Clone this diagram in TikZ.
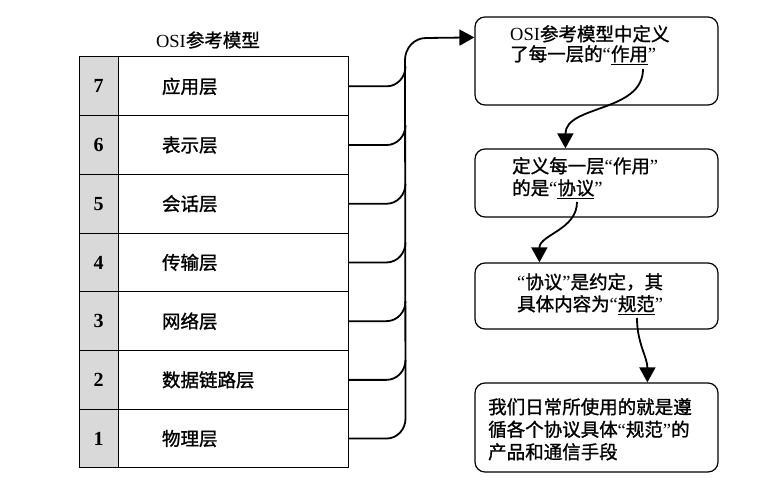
\documentclass[tikz,border=0pt]{standalone}
\usepackage{fontspec}
\setmainfont{Noto Sans CJK SC}[RawFeature={embolden=1.2}]
\newfontfamily\lat{Liberation Serif}
\usepackage{tikz}
\usetikzlibrary{arrows.meta,calc}
\newcommand\lqt{{\lat “}}
\newcommand\rqt{{\lat ”}}

\begin{document}
\begin{tikzpicture}
  [x=1pt,y=1pt,
   every node/.style={font=\fontsize{18.5}{22}\selectfont},
   numcell/.style={draw,line width=1pt,fill=gray!30,minimum width=39pt,minimum height=58.7pt,
     inner sep=0pt,font=\fontsize{20}{22}\selectfont\lat\bfseries},
   laycell/.style={draw,line width=1pt,text width=142pt,inner xsep=44pt,inner ysep=0pt,
     minimum height=58.7pt,align=left},
   box/.style={draw,line width=1.2pt,rounded corners=10pt,minimum width=243pt},
   boxtext/.style={anchor=north west,inner sep=0pt,align=left},
   link/.style={line width=1.8pt},
   flow/.style={line width=1.8pt,-{Triangle[length=15pt,width=16pt]}}]
  \useasboundingbox (0,0) rectangle (767,-489);

  % OSI layers
  \node (title) at (208,-40) {{\lat OSI}参考模型};
  \foreach \n/\name [count=\i] in {7/应用层,6/表示层,5/会话层,4/传输层,3/网络层,2/数据链路层,1/物理层} {
    \node[numcell] (num\n) at (98.5,{-(57+(\i-0.5)*58.7)}) {\n};
    \node[laycell] (lay\n) at (233,{-(57+(\i-0.5)*58.7)}) {\name};
  }

  % boxes on the right
  \node[box,minimum height=88pt] (b1) at (596.5,-61) {};
  \node[box,minimum height=68pt] (b2) at (596.5,-183) {};
  \node[box,minimum height=66pt] (b3) at (596.5,-296) {};
  \node[box,minimum height=89pt] (b4) at (596.5,-427.5) {};

  \node[boxtext,font=\fontsize{18.5}{20}\selectfont] (t1) at (510,-25)
    {{\lat OSI}参考模型中定义\\了每一层的\lqt\underline{作用}\rqt};
  \node[boxtext] (t2) at (512,-157) {定义每一层\lqt 作用\rqt\\的是\lqt\underline{协议}\rqt};
  \node[boxtext] (t3) at (517,-273) {\lqt 协议\rqt 是约定，其\\具体内容为\lqt\underline{规范}\rqt};
  \node[boxtext,font=\fontsize{18.5}{22.5}\selectfont] (t4) at (488,-398)
    {我们日常所使用的就是遵\\循各个协议具体\lqt 规范\rqt 的\\产品和通信手段};

  \coordinate (in1) at ($(b1.north west)+(0,-21)$);
  \coordinate (u1) at (643,-69);
  \coordinate (u2) at (577,-202);
  \coordinate (u3) at (637,-318);
  \coordinate (e2) at ($(b2.north west)+(91,0)$);
  \coordinate (e3) at ($(b3.north west)+(65,0)$);
  \coordinate (e4) at ($(b4.north west)+(173,0)$);

  % connectors
  \foreach \n in {2,...,7}
    \draw[link] (lay\n.east) -- ++(38,0) to[out=0,in=-90] ++(19,20);
  \draw[flow] (lay1.east) -- ++(38,0) to[out=0,in=-90] ++(19,20)
    -- (405,-60) to[out=90,in=180] (426,-38) -- (in1);

  \draw[flow] (u1) to[out=-90,in=90] (e2);
  \draw[flow] (u2) to[out=-90,in=90] (e3);
  \draw[flow] (u3) to[out=-90,in=90] (e4);

\end{tikzpicture}
\end{document}
